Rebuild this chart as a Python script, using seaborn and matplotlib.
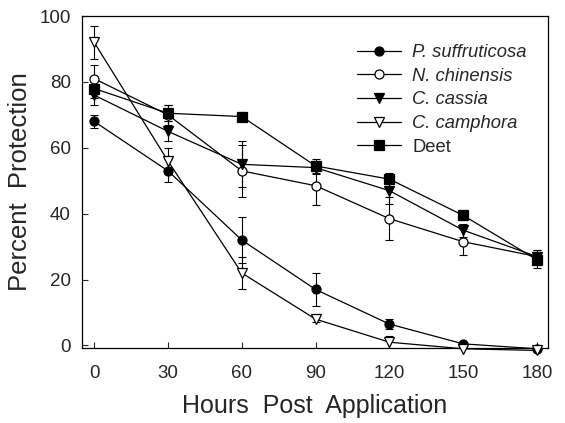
import pandas as pd
import matplotlib.pyplot as plt
import seaborn as sns

# data
hours = [0, 30, 60, 90, 120, 150, 180]
series = ['P. suffruticosa', 'N. chinensis', 'C. cassia', 'C. camphora', 'Deet']
p_suff = [68, 53, 32, 17, 6.5, 0.5, -1]
p_suff_err = [2, 3.5, 7, 5, 1.5, 0.5, 0.5]
n_chin = [81, 70, 53, 48.5, 38.5, 31.5, 27]
n_chin_err = [4, 3, 8, 6, 6.5, 4, 2]
c_cass = [76, 65, 55, 54, 47, 35, 27]
c_cass_err = [3, 3, 7, 2, 4, 2, 2]
c_camp = [92, 56, 22, 8, 1, -1, -1.5]
c_camp_err = [5, 4, 5, 1, 2, 0.5, 0.5]
deet = [78, 70.5, 69.5, 54.5, 50.5, 39.5, 26]
deet_err = [3, 2.5, 1.5, 2, 2, 1.5, 2.5]

values = [p_suff, n_chin, c_cass, c_camp, deet]
errors = [p_suff_err, n_chin_err, c_cass_err, c_camp_err, deet_err]
markers = ['o', 'o', 'v', 'v', 's']
faces = ['black', 'white', 'black', 'white', 'black']

rows = []
for name, vals, errs in zip(series, values, errors):
    for h, v, e in zip(hours, vals, errs):
        rows.append({'Hours': h, 'Protection': v, 'err': e, 'Series': name})
df = pd.DataFrame(rows)

sns.set_style("ticks")
plt.rcParams['font.family'] = ['Liberation Sans', 'DejaVu Sans']

fig = plt.figure(figsize=(5.65, 4.23), dpi=100)
ax = fig.add_axes([0.145, 0.177, 0.825, 0.785])

for name, m, fc in zip(series, markers, faces):
    d = df[df['Series'] == name]
    ax.errorbar(d['Hours'], d['Protection'], yerr=d['err'], fmt='none',
                ecolor='black', elinewidth=0.8, capsize=3, capthick=0.8, zorder=2)
    sns.lineplot(data=d, x='Hours', y='Protection', ax=ax, color='black',
                 linewidth=0.9, marker=m, markersize=6.5, markerfacecolor=fc,
                 markeredgecolor='black', markeredgewidth=0.9, label=name,
                 clip_on=False, zorder=3)

ax.set_xlim(-5, 184.5)
ax.set_ylim(-0.8, 100)
ax.set_xticks(hours)
ax.set_yticks([0, 20, 40, 60, 80, 100])
ax.tick_params(direction='in', labelsize=13.5, width=0.8, length=4)
ax.tick_params(axis='x', pad=12)
ax.tick_params(axis='y', pad=8)
for s in ax.spines.values():
    s.set_linewidth(0.9)
    s.set_color('black')

ax.set_xlabel('Hours  Post  Application', fontsize=18, labelpad=9)
ax.set_ylabel('Percent  Protection', fontsize=18.5, labelpad=5)

leg = ax.legend(loc='upper right', bbox_to_anchor=(0.99, 0.965), frameon=False,
                fontsize=13.2, handlelength=2.4, labelspacing=0.36, handletextpad=0.6)
for t in leg.get_texts()[:4]:
    t.set_style('italic')

plt.savefig('out.png', dpi=100)
